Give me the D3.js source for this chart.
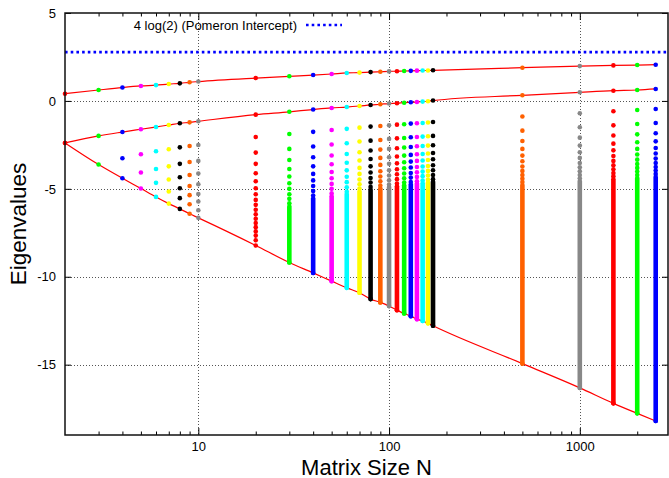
<!DOCTYPE html>
<html>
<head>
<meta charset="utf-8">
<script src="https://cdn.jsdelivr.net/npm/d3@7/dist/d3.min.js"></script>
<style>
    body { margin: 0; background: #fff; }
    svg { display: block; font-family: "Liberation Sans", Arial, sans-serif; }
</style>
</head>
<body>
<svg id="chart" width="669" height="478"></svg>
<script>
// matrix sizes, one column of eigenvalues each
var sizes = [2, 3, 4, 5, 6, 7, 8, 9, 10, 20, 30, 40, 50, 60, 70, 80, 90, 100,
             110, 120, 130, 140, 150, 160, 170, 500, 1000, 1500, 2000, 2500];

// largest eigenvalue (upper red curve)
var topEig = [0.41, 0.62, 0.76, 0.85, 0.90, 0.96, 1.00, 1.06, 1.10, 1.30, 1.40, 1.47, 1.53, 1.59,
              1.61, 1.64, 1.66, 1.68, 1.69, 1.70, 1.71, 1.72, 1.73, 1.73, 1.74, 1.89, 1.98, 2.02, 2.04, 2.06];

// second eigenvalue (middle red curve)
var secondEig = [-2.39, -1.99, -1.77, -1.61, -1.48, -1.37, -1.27, -1.22, -1.16, -0.78, -0.62, -0.49, -0.40, -0.35,
                 -0.29, -0.23, -0.19, -0.15, -0.13, -0.10, -0.08, -0.06, -0.04, -0.02, 0.02, 0.32, 0.49, 0.58, 0.62, 0.68];

// smallest eigenvalue (lower red curve)
var lowestEig = [-2.39, -3.62, -4.40, -4.98, -5.46, -5.84, -6.14, -6.42, -6.65, -8.22, -9.19, -9.78, -10.25, -10.63,
                 -10.91, -11.27, -11.46, -11.67, -11.90, -12.09, -12.24, -12.41, -12.52, -12.65, -12.79,
                 -14.94, -16.32, -17.20, -17.77, -18.20];

// separate eigenvalues between the second and the lowest one
var innerEig = [
    [],
    [],
    [-3.26],
    [-3.03, -4.07],
    [-2.86, -3.87, -4.66],
    [-2.75, -3.72, -4.47, -5.15],
    [-2.64, -3.58, -4.34, -4.97, -5.53],
    [-2.56, -3.47, -4.21, -4.84, -5.36, -5.88],
    [-2.51, -3.41, -4.13, -4.74, -5.29, -5.72, -6.22],
    [-2.05, -2.94, -3.58, -4.11, -4.57, -4.97, -5.31, -5.63, -5.91, -6.19, -6.45, -6.70, -6.94, -7.18, -7.42, -7.66, -7.92],
    [-1.88, -2.73, -3.36, -3.87, -4.30, -4.68, -5.00, -5.31, -5.57, -5.82],
    [-1.76, -2.59, -3.20, -3.72, -4.15, -4.52, -4.84, -5.13, -5.38],
    [-1.65, -2.48, -3.10, -3.60, -4.04, -4.40, -4.72, -5.00, -5.26],
    [-1.59, -2.41, -3.02, -3.52, -3.95, -4.31, -4.62, -4.91, -5.16],
    [-1.52, -2.31, -2.92, -3.39, -3.81, -4.15, -4.47, -4.74, -4.98],
    [-1.46, -2.26, -2.82, -3.30, -3.72, -4.07, -4.38, -4.64, -4.89],
    [-1.43, -2.22, -2.77, -3.24, -3.64, -4.00, -4.30, -4.57, -4.81],
    [-1.39, -2.16, -2.73, -3.20, -3.58, -3.94, -4.24, -4.51, -4.75],
    [-1.35, -2.13, -2.69, -3.16, -3.55, -3.89, -4.17, -4.45, -4.70],
    [-1.33, -2.11, -2.65, -3.11, -3.49, -3.83, -4.13, -4.40, -4.64],
    [-1.29, -2.07, -2.62, -3.07, -3.45, -3.79, -4.10, -4.36, -4.61],
    [-1.27, -2.05, -2.58, -3.03, -3.41, -3.76, -4.06, -4.32, -4.57],
    [-1.26, -2.03, -2.56, -3.02, -3.39, -3.73, -4.02, -4.28, -4.53],
    [-1.23, -2.01, -2.54, -2.99, -3.36, -3.70, -3.98, -4.24, -4.49],
    [-1.20, -1.99, -2.52, -2.96, -3.32, -3.66, -3.94, -4.21, -4.45],
    [-0.89, -1.69, -2.28, -2.73, -3.11, -3.43, -3.73, -3.98, -4.21, -4.42, -4.61],
    [-0.70, -1.50, -2.09, -2.54, -2.92, -3.24, -3.53, -3.77, -4.00, -4.21, -4.40],
    [-0.59, -1.39, -1.97, -2.43, -2.81, -3.13, -3.41, -3.66, -3.89, -4.10, -4.28],
    [-0.52, -1.31, -1.90, -2.35, -2.73, -3.05, -3.34, -3.59, -3.81, -4.02, -4.21],
    [-0.46, -1.26, -1.84, -2.30, -2.68, -2.99, -3.28, -3.53, -3.76, -3.96, -4.15]
];

// where the points run together into a solid column (null = all separate)
var denseFrom = [null, null, null, null, null, null, null, null, null, null, -6.00, -5.55, -5.42, -5.30,
                 -5.15, -5.05, -4.97, -4.90, -4.85, -4.80, -4.75, -4.70, -4.68, -4.65, -4.60,
                 -4.78, -4.56, -4.45, -4.38, -4.32];

var palette = ["#ff0000", "#00ff00", "#0000ff", "#ff00ff", "#00ffff", "#ffff00", "#000000", "#ff6000", "#888888"];

var pomeron = 4 * Math.log(2);
var legendText = "4 log(2) (Pomeron Intercept)";

var xDomain = [2, 2900];
var yDomain = [-19, 5];
var xMajor = [10, 100, 1000];
var xMinor = [3, 4, 5, 6, 7, 8, 9, 20, 30, 40, 50, 60, 70, 80, 90, 200, 300, 400, 500, 600, 700, 800, 900, 2000];
var yTicks = [-15, -10, -5, 0, 5];

var svg = d3.select("#chart");
var plotL = 65, plotR = 668, plotT = 13, plotB = 435;

var x = d3.scaleLog().domain(xDomain).range([plotL, plotR]);
var y = d3.scaleLinear().domain(yDomain).range([plotB, plotT]);

// grid
var grid = svg.append("g")
    .attr("stroke", "#555")
    .attr("stroke-width", 1)
    .attr("stroke-dasharray", "1,2");
grid.selectAll(".gy").data(yTicks.filter(d => d < 5)).join("line")
    .attr("x1", plotL).attr("x2", plotR)
    .attr("y1", d => Math.round(y(d)) + 0.5).attr("y2", d => Math.round(y(d)) + 0.5);
grid.selectAll(".gx").data(xMajor).join("line")
    .attr("y1", plotT).attr("y2", plotB)
    .attr("x1", d => Math.round(x(d)) + 0.5).attr("x2", d => Math.round(x(d)) + 0.5);

// pomeron intercept line
svg.append("line")
    .attr("x1", plotL).attr("x2", plotR)
    .attr("y1", y(pomeron)).attr("y2", y(pomeron))
    .attr("stroke", "#0000ff")
    .attr("stroke-width", 2.6)
    .attr("stroke-dasharray", "2.6,3.1");

// fitted red curves
var curve = d3.line()
    .x(d => x(d[0]))
    .y(d => y(d[1]))
    .curve(d3.curveMonotoneX);

[topEig, secondEig, lowestEig].forEach(function(vals) {
    svg.append("path")
        .datum(sizes.map((n, i) => [n, vals[i]]))
        .attr("d", curve)
        .attr("fill", "none")
        .attr("stroke", "#ff0000")
        .attr("stroke-width", 1.2);
});

// eigenvalue columns
var cols = svg.append("g");
sizes.forEach(function(n, i) {
    var col = palette[i % palette.length];
    var g = cols.append("g").attr("fill", col);
    if (denseFrom[i] !== null) {
        g.append("line")
            .attr("x1", x(n)).attr("x2", x(n))
            .attr("y1", y(denseFrom[i])).attr("y2", y(lowestEig[i]))
            .attr("stroke", col)
            .attr("stroke-width", 4.6)
            .attr("stroke-linecap", "round");
    }
    var vals = [topEig[i], secondEig[i]].concat(innerEig[i], [lowestEig[i]]);
    g.selectAll("circle").data(vals).join("circle")
        .attr("cx", x(n))
        .attr("cy", d => y(d))
        .attr("r", 2.3);
});

// axes
function styleAxis(g) {
    g.select(".domain").remove();
    g.selectAll(".tick line").attr("stroke", "#000");
    g.selectAll("text").attr("font-size", 13).attr("fill", "#000")
        .attr("font-family", "'Liberation Sans', Arial, sans-serif");
}

svg.append("g").attr("transform", "translate(" + plotL + ",0)")
    .call(d3.axisLeft(y).tickValues(yTicks).tickSize(-6).tickPadding(9).tickFormat(d => String(d)))
    .call(styleAxis);
svg.append("g").attr("transform", "translate(" + plotR + ",0)")
    .call(d3.axisRight(y).tickValues(yTicks).tickSize(-6).tickFormat(""))
    .call(styleAxis);
svg.append("g").attr("transform", "translate(0," + plotB + ")")
    .call(d3.axisBottom(x).tickValues(xMajor).tickSize(-7).tickPadding(7).tickFormat(d => String(d)))
    .call(styleAxis);
svg.append("g").attr("transform", "translate(0," + plotB + ")")
    .call(d3.axisBottom(x).tickValues(xMinor).tickSize(-3.5).tickFormat(""))
    .call(styleAxis);
svg.append("g").attr("transform", "translate(0," + plotT + ")")
    .call(d3.axisTop(x).tickValues(xMajor).tickSize(-7).tickFormat(""))
    .call(styleAxis);
svg.append("g").attr("transform", "translate(0," + plotT + ")")
    .call(d3.axisTop(x).tickValues(xMinor).tickSize(-3.5).tickFormat(""))
    .call(styleAxis);

// frame
svg.append("rect")
    .attr("x", plotL).attr("y", plotT)
    .attr("width", plotR - plotL).attr("height", plotB - plotT)
    .attr("fill", "none")
    .attr("stroke", "#111")
    .attr("stroke-width", 1.5);

// legend
svg.append("text")
    .attr("x", 297).attr("y", 30)
    .attr("text-anchor", "end")
    .attr("font-size", 13)
    .text(legendText);
svg.append("line")
    .attr("x1", 306).attr("x2", 342)
    .attr("y1", 25).attr("y2", 25)
    .attr("stroke", "#0000ff")
    .attr("stroke-width", 2.6)
    .attr("stroke-dasharray", "2.6,3.1");

// axis titles
svg.append("text")
    .attr("transform", "translate(25.5," + ((plotT + plotB) / 2) + ") rotate(-90)")
    .attr("text-anchor", "middle")
    .attr("font-size", 22.5)
    .text("Eigenvalues");
svg.append("text")
    .attr("x", (plotL + plotR) / 2).attr("y", 474.5)
    .attr("text-anchor", "middle")
    .attr("font-size", 22)
    .text("Matrix Size N");
</script>
</body>
</html>
